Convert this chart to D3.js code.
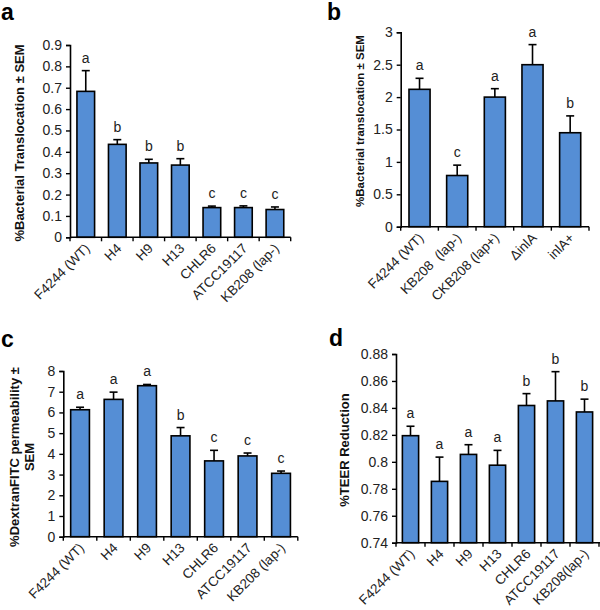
<!DOCTYPE html>
<html><head><meta charset="utf-8">
<script src="https://cdn.jsdelivr.net/npm/d3@7"></script>
<style>body{margin:0;background:#fff}svg{display:block;font-family:"Liberation Sans",Arial,sans-serif}</style>
</head><body><svg id="c" width="600" height="610"></svg>
<script>
// Panel a
const catsA = ["F4244 (WT)","H4","H9","H13","CHLR6","ATCC19117","KB208 (lap-)"];
const valsA = [0.683,0.435,0.348,0.338,0.139,0.139,0.130];
const semA  = [0.097,0.022,0.017,0.030,0.007,0.008,0.012];
const grpA  = ["a","b","b","b","c","c","c"];
const ticksA = [0,0.1,0.2,0.3,0.4,0.5,0.6,0.7,0.8,0.9];
const tickLabelsA = ["0","0.1","0.2","0.3","0.4","0.5","0.6","0.7","0.8","0.9"];
// Panel b
const catsB = ["F4244 (WT)","KB208  (lap-)","CKB208 (lap+)","\u0394inlA","inlA+"];
const valsB = [2.12,0.79,2.00,2.50,1.45];
const semB  = [0.17,0.16,0.13,0.31,0.26];
const grpB  = ["a","c","a","a","b"];
const ticksB = [0,0.5,1,1.5,2,2.5,3];
const tickLabelsB = ["0","0.5","1","1.5","2","2.5","3"];
// Panel c
const catsC = ["F4244 (WT)","H4","H9","H13","CHLR6","ATCC19117","KB208 (lap-)"];
const valsC = [6.13,6.63,7.29,4.87,3.66,3.90,3.06];
const semC  = [0.12,0.35,0.06,0.40,0.51,0.14,0.11];
const grpC  = ["a","a","a","b","c","c","c"];
const ticksC = [0,1,2,3,4,5,6,7,8];
const tickLabelsC = ["0","1","2","3","4","5","6","7","8"];
// Panel d
const catsD = ["F4244 (WT)","H4","H9","H13","CHLR6","ATCC19117","KB208(lap-)"];
const valsD = [0.8194,0.7855,0.8055,0.7975,0.8418,0.8452,0.8370];
const semD  = [0.0070,0.0180,0.0072,0.0110,0.0088,0.0217,0.0095];
const grpD  = ["a","a","a","a","b","b","b"];
const ticksD = [0.74,0.76,0.78,0.80,0.82,0.84,0.86,0.88];
const tickLabelsD = ["0.74","0.76","0.78","0.8","0.82","0.84","0.86","0.88"];

const svg = d3.select("#c");
const BAR = "#558ed5";

function panel(o){
  const g = svg.append("g");
  const x = d3.scaleBand().domain(o.cats).range([o.x0,o.x1]).paddingInner(0.44).paddingOuter(0.22);
  const y = d3.scaleLinear().domain(o.dom).range([o.y0,o.y1]);
  const step = x.step();
  // bars
  g.selectAll("rect.bar").data(o.cats).enter().append("rect")
    .attr("x",(d)=>x(d)).attr("width",x.bandwidth())
    .attr("y",(d,i)=>y(o.vals[i])).attr("height",(d,i)=>y(o.dom[0])-y(o.vals[i]))
    .attr("fill",BAR).attr("stroke","#000").attr("stroke-width",1.6);
  // error bars
  const cap = 4;
  o.cats.forEach((c,i)=>{
    const cx = x(c)+x.bandwidth()/2;
    const top = y(o.vals[i]+o.sem[i]);
    g.append("line").attr("x1",cx).attr("x2",cx).attr("y1",y(o.vals[i])).attr("y2",top).attr("stroke","#000").attr("stroke-width",1.6);
    g.append("line").attr("x1",cx-cap).attr("x2",cx+cap).attr("y1",top).attr("y2",top).attr("stroke","#000").attr("stroke-width",1.6);
    g.append("text").attr("x",cx).attr("y",top-8).attr("text-anchor","middle")
      .attr("font-size",14).attr("fill","#222").text(o.grp[i]);
  });
  // y axis
  const ya = d3.axisLeft(y).tickValues(o.ticks).tickFormat((d,i)=>o.tickLabels[i]).tickSize(4).tickPadding(4);
  const yg = g.append("g").attr("transform",`translate(${o.x0},0)`).call(ya);
  yg.select(".domain").attr("stroke","#000").attr("stroke-width",1.6);
  yg.selectAll(".tick line").attr("stroke","#000").attr("stroke-width",1.4);
  yg.selectAll("text").attr("font-size",o.tfs||14).attr("fill","#222").attr("font-family","Liberation Sans, Arial, sans-serif");
  // x axis line
  const axY = o.y0;
  g.append("line").attr("x1",o.x0).attr("x2",o.xend||o.x1).attr("y1",axY).attr("y2",axY).attr("stroke","#000").attr("stroke-width",1.6);
  const bounds = d3.range(o.cats.length+1).map(i=>o.x0+i*step);
  g.selectAll("line.xt").data(bounds).enter().append("line")
    .attr("x1",d=>d).attr("x2",d=>d).attr("y1",axY).attr("y2",axY+4).attr("stroke","#000").attr("stroke-width",1.4);
  g.selectAll("text.xl").data(o.cats).enter().append("text")
    .attr("text-anchor","end").attr("font-size",o.xfs||13.5).attr("fill","#222")
    .attr("transform",d=>`translate(${x(d)+x.bandwidth()/2+5},${axY+12}) rotate(-45)`)
    .attr("xml:space","preserve").style("white-space","pre")
    .text(d=>d);
  // y title
  const t = g.append("text").attr("transform",`translate(${o.tx},${o.ty}) rotate(-90)`)
    .attr("text-anchor","middle").attr("font-weight","bold").attr("font-size",o.tfsz||13).attr("fill","#111");
  o.title.forEach((line,i)=>{
    t.append("tspan").attr("x",0).attr("dy",i===0?0:"1.15em").text(line);
  });
  // panel letter
  svg.append("text").attr("x",o.lx).attr("y",o.ly).attr("font-weight","bold").attr("font-size",23).attr("fill","#000").text(o.letter);
}

panel({cats:catsA,vals:valsA,sem:semA,grp:grpA,ticks:ticksA,tickLabels:tickLabelsA,dom:[0,0.9],
  x0:70,x1:290.7,y0:237.3,y1:45,title:["%Bacterial Translocation \u00b1 SEM"],tx:24,ty:143,letter:"a",lx:1,ly:20});
panel({cats:catsB,vals:valsB,sem:semB,grp:grpB,ticks:ticksB,tickLabels:tickLabelsB,dom:[0,3],
  x0:400.7,x1:589,y0:226.7,y1:32.3,title:["%Bacterial translocation \u00b1 SEM"],tx:364,ty:121,tfsz:11.5,letter:"b",lx:327,ly:20});
panel({cats:catsC,vals:valsC,sem:semC,grp:grpC,ticks:ticksC,tickLabels:tickLabelsC,dom:[0,8],
  x0:63.3,x1:297.8,y0:536.7,y1:371,title:["%DextranFITC permeability \u00b1","SEM"],tx:19,ty:457,letter:"c",lx:1,ly:347});
panel({cats:catsD,vals:valsD,sem:semD,grp:grpD,ticks:ticksD,tickLabels:tickLabelsD,dom:[0.74,0.88],
  x0:396,x1:599,xend:605,y0:542.7,y1:354,title:["%TEER Reduction"],tx:349,ty:450,letter:"d",lx:329,ly:346});
</script></body></html>
